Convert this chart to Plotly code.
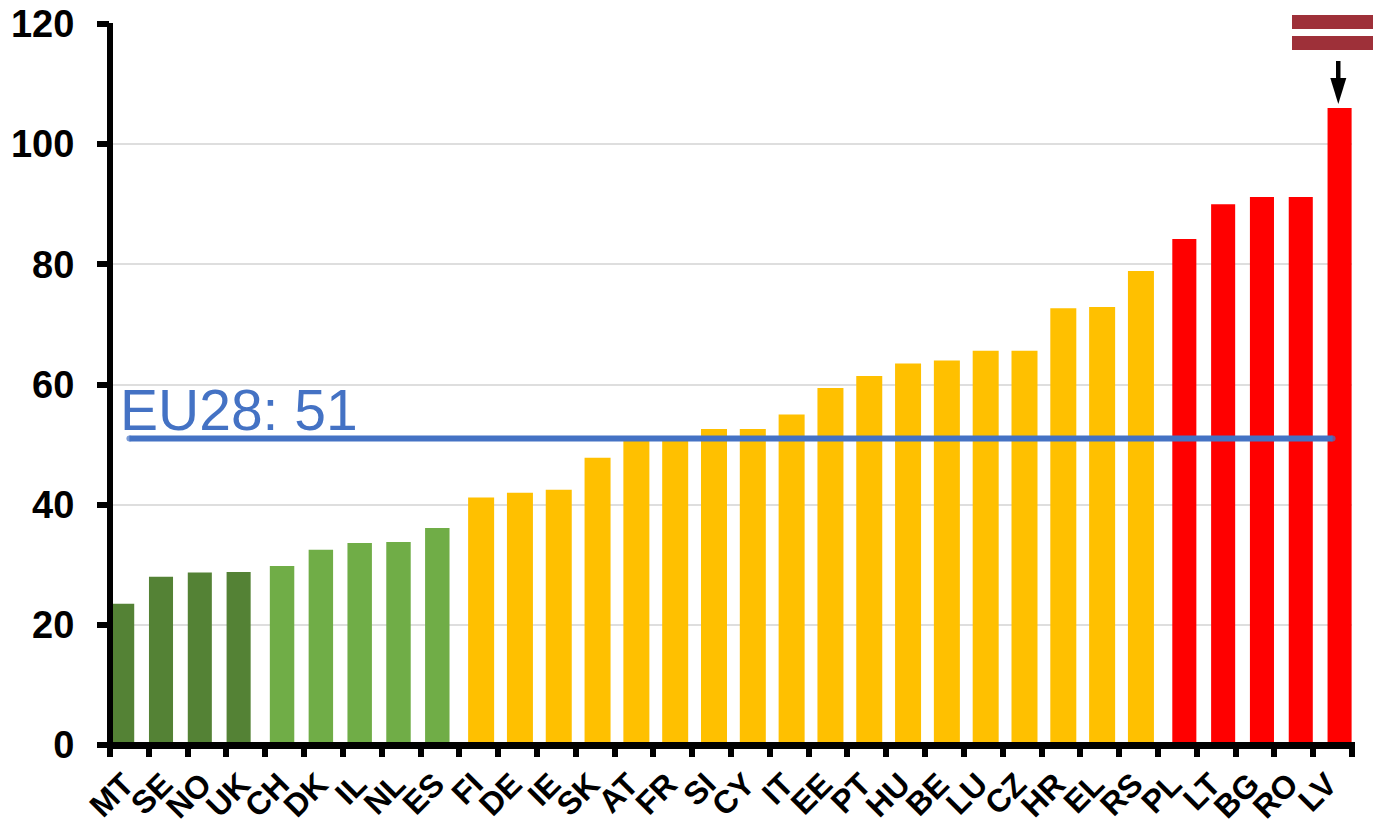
import plotly.graph_objects as go

categories = ["MT","SE","NO","UK","CH","DK","IL","NL","ES","FI","DE","IE","SK","AT","FR","SI",
              "CY","IT","EE","PT","HU","BE","LU","CZ","HR","EL","RS","PL","LT","BG","RO","LV"]
dark_green_names = ["MT","SE","NO","UK"]
dark_green_values = [23.5,28.0,28.7,28.8]
light_green_names = ["CH","DK","IL","NL","ES"]
light_green_values = [29.8,32.5,33.6,33.8,36.1]
yellow_names = ["FI","DE","IE","SK","AT","FR","SI","CY","IT","EE","PT","HU","BE","LU","CZ","HR","EL","RS"]
yellow_values = [41.2,42.0,42.5,47.8,50.8,51.4,52.6,52.6,55.0,59.4,61.4,63.5,64.0,65.6,65.6,72.7,72.9,78.9]
red_names = ["PL","LT","BG","RO","LV"]
red_values = [84.2,90.0,91.2,91.2,106.0]
eu28_value = 51
y_ticks = [0,20,40,60,80,100,120]

W, H = 1373, 824
L, R, T, B = 110, 21, 24, 79
FONT = "Liberation Sans, Arial, sans-serif"

fig = go.Figure()
for names, vals, color, width, offset in [
    (dark_green_names, dark_green_values, "#548235", 0.62, -0.496),
    (light_green_names, light_green_values, "#70AD47", 0.63, -0.382),
    (yellow_names, yellow_values, "#FFC000", 0.67, -0.273),
    (red_names, red_values, "#FF0000", 0.62, -0.13),
]:
    fig.add_bar(x=names, y=vals, marker=dict(color=color, line_width=0),
                width=width, offset=offset, showlegend=False)

fig.add_scatter(x=categories, y=[eu28_value]*len(categories), mode="lines+markers",
                line=dict(color="#4472C4", width=6),
                marker=dict(color="#4472C4", line_width=0,
                            size=[6] + [0]*(len(categories)-2) + [6]),
                showlegend=False)

def px(x):
    return (x - L) / (W - L - R)
def py(y):
    return 1 - (y - T) / (H - T - B)

fig.add_annotation(xref="paper", yref="paper", x=px(118), y=py(410), text="EU28: 51",
                   showarrow=False, xanchor="left", yanchor="middle",
                   font=dict(family=FONT, size=57, color="#4472C4"))

def rect(x0, x1, y0, y1, c):
    fig.add_shape(type="rect", xref="paper", yref="paper", x0=px(x0), x1=px(x1),
                  y0=py(y0), y1=py(y1), fillcolor=c, line_width=0, layer="above")

# Latvian flag
rect(1292, 1373, 15, 29, "#9E3039")
rect(1292, 1373, 29, 36, "#FFFFFF")
rect(1292, 1373, 36, 50, "#9E3039")
# arrow
rect(1336, 1340.5, 61, 80, "#000000")
ax, ay0, ay1 = px(1338.3), py(78), py(104)
fig.add_shape(type="path", xref="paper", yref="paper",
              path=f"M {px(1330.3)} {ay0} L {px(1346.3)} {ay0} L {ax} {ay1} Z",
              fillcolor="#000000", line_width=0, layer="above")
# axis lines
rect(107, 113, 23, 749, "#000000")
rect(107, 1355, 742, 749, "#000000")

fig.update_layout(
    width=W, height=H, margin=dict(l=L, r=R, t=T, b=B, pad=0),
    paper_bgcolor="white", plot_bgcolor="white", barmode="overlay",
    font=dict(family=FONT, color="black"),
    xaxis=dict(type="category", categoryorder="array", categoryarray=categories,
               tickmode="array", tickvals=categories, ticktext=categories,
               tickson="boundaries", ticks="outside", ticklen=11, tickwidth=5.5, tickcolor="black",
               showline=False, showgrid=False, automargin=False, zeroline=False,
               tickangle=-45, ticklabelshift=-5, ticklabelstandoff=13,
               tickfont=dict(family=FONT, size=32, color="black", weight="bold"),
               range=[-0.5, 31.5]),
    yaxis=dict(range=[0,120], tickmode="array", tickvals=y_ticks,
               ticks="outside", ticklen=12, tickwidth=5.5, tickcolor="black",
               showline=False, automargin=False, ticklabelstandoff=15,
               showgrid=True, gridcolor="#DEDEDE", gridwidth=2, zeroline=False,
               tickfont=dict(family=FONT, size=38, color="black", weight="bold")),
)
fig.write_html("out.html", post_script="document.body.style.margin='0';",
               config=dict(displayModeBar=False))
